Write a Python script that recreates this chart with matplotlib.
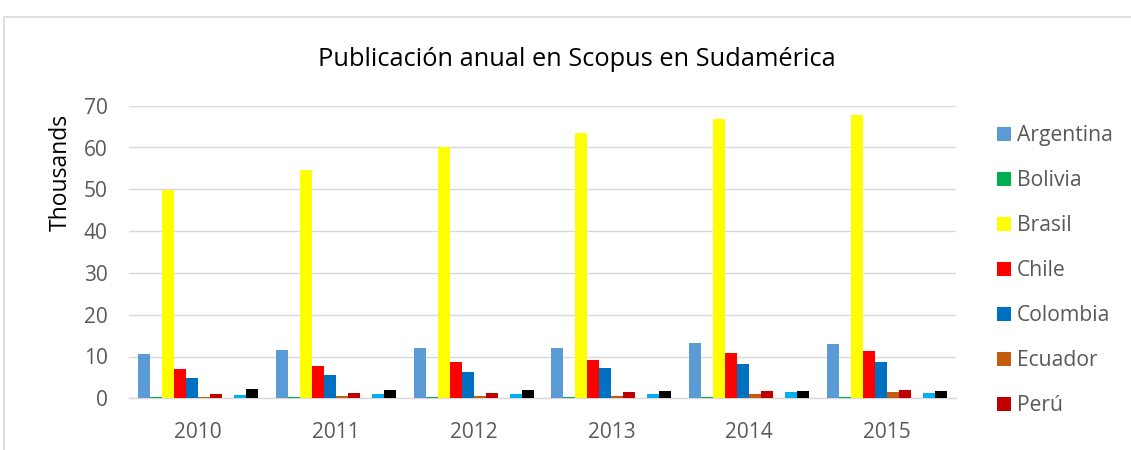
import matplotlib
matplotlib.use("Agg")
import matplotlib.pyplot as plt
import numpy as np
from matplotlib.patches import Rectangle

years = ["2010", "2011", "2012", "2013", "2014", "2015"]
countries = ["Argentina", "Bolivia", "Brasil", "Chile", "Colombia", "Ecuador",
             "Perú", "Paraguay", "Uruguay", "Venezuela"]

argentina = [10.6, 11.5, 12.0, 12.1, 13.2, 13.1]
bolivia = [0.2, 0.2, 0.2, 0.25, 0.25, 0.3]
brasil = [49.8, 54.6, 60.0, 63.4, 66.9, 67.8]
chile = [7.0, 7.8, 8.7, 9.1, 10.9, 11.3]
colombia = [4.8, 5.5, 6.4, 7.2, 8.2, 8.6]
ecuador = [0.4, 0.5, 0.55, 0.6, 0.95, 1.45]
peru = [1.1, 1.2, 1.2, 1.4, 1.7, 1.9]
paraguay = [0.1, 0.1, 0.1, 0.1, 0.15, 0.15]
uruguay = [0.85, 1.0, 1.0, 1.0, 1.4, 1.2]
venezuela = [2.3, 1.9, 1.9, 1.8, 1.75, 1.7]

series = [argentina, bolivia, brasil, chile, colombia, ecuador, peru,
          paraguay, uruguay, venezuela]
colors = ["#5B9BD5", "#00B050", "#FFFF00", "#FF0000", "#0070C0", "#C55A11",
          "#C00000", "#7030A0", "#00B0F0", "#000000"]
legend_count = 7

FONT = "Open Sans"
plt.rcParams['font.family'] = [FONT, 'DejaVu Sans']

W, H = 1131, 450
fig = plt.figure(figsize=(W / 100, H / 100), dpi=100)


def fx(px):
    return px / W


def fy(py):
    return 1 - py / H


# chart border
fig.patches.append(Rectangle((fx(4), -0.01), 1.0, fy(17) + 0.01,
                             transform=fig.transFigure, fill=False,
                             edgecolor="#D9D9D9", linewidth=1.2))

ax = fig.add_axes([fx(129), fy(398.3), (956 - 129) / W, (398.3 - 105.7) / H])
x = np.arange(len(years))
bw = 0.087
nser = len(series)
for i, (vals, c, name) in enumerate(zip(series, colors, countries)):
    ax.bar(x + (i - (nser - 1) / 2) * bw, vals, width=bw, color=c, label=name,
           zorder=3, linewidth=0)

ax.set_xlim(-0.5, len(years) - 0.5)
ax.set_ylim(0, 70)
ax.set_yticks(range(0, 71, 10))
ax.set_xticks(x)
ax.set_xticklabels(years)
ax.grid(axis="y", color="#D9D9D9", linewidth=1.0, zorder=0)
for s in ["top", "right", "left"]:
    ax.spines[s].set_visible(False)
ax.spines["bottom"].set_color("#D9D9D9")
ax.spines["bottom"].set_linewidth(1.0)
ax.tick_params(axis="both", length=0, labelsize=15, labelcolor="#595959")
ax.tick_params(axis="y", pad=15.5)
ax.tick_params(axis="x", pad=17)

fig.text(fx(61), fy(172), "Thousands", rotation=90, ha="center", va="center",
         fontsize=16.5, color="#000000")

fig.text(fx(576.5), fy(66), "Publicación anual en Scopus en Sudamérica",
         ha="center", va="baseline", fontsize=18.3, color="#000000")

# legend (only the first entries are visible in the original)
for k in range(legend_count):
    cy = 134.3 + 45 * k
    fig.patches.append(Rectangle((fx(997), fy(cy + 7)), 14 / W, 14 / H,
                                 transform=fig.transFigure,
                                 facecolor=colors[k], edgecolor="none"))
    fig.text(fx(1017), fy(cy + 6.5), countries[k], ha="left", va="baseline",
             fontsize=15.2, color="#595959")

fig.savefig("out.png", dpi=100)
